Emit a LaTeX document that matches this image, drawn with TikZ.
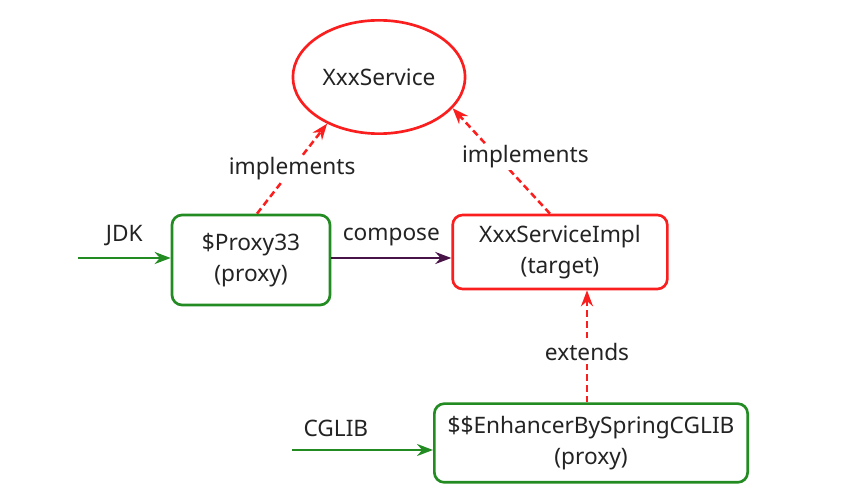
\documentclass[tikz,border=0pt]{standalone}
\usepackage{fontspec}
\setmainfont{Noto Sans}
\usetikzlibrary{positioning,shapes.geometric,arrows.meta}
\definecolor{boxgreen}{RGB}{34,139,34}
\definecolor{boxred}{RGB}{250,30,30}
\definecolor{composecol}{RGB}{72,20,72}
\definecolor{txtgray}{RGB}{35,35,35}
\tikzset{
	every node/.style={text=txtgray, font=\fontsize{17}{23}\selectfont, align=center},
	proxybox/.style={draw=boxgreen, line width=2pt, rounded corners=7.5pt, rectangle},
	targetbox/.style={draw=boxred, line width=2pt, rounded corners=7.5pt, rectangle},
	entry/.style={draw=boxgreen, line width=1.9pt, -{Stealth[length=12pt,width=9pt]}},
	relation/.style={draw=boxred, line width=1.9pt, dash pattern=on 5pt off 3pt, -{Stealth[length=12pt,width=9pt]}},
	lbl/.style={fill=white, inner sep=1pt}
}

\begin{document}
\begin{tikzpicture}[x=0.75pt, y=-0.75pt]
	\useasboundingbox (0,0) rectangle (865,502);
	\begin{scope}
		\node (svc) [ellipse, draw=boxred, line width=2pt, minimum width=129pt, minimum height=85pt] at (379,77) {XxxService};
		\node (proxy) [proxybox, minimum width=118.5pt, minimum height=67.5pt] at (251,260) {\$Proxy33\\(proxy)};
		\node (impl) [targetbox, minimum width=161pt, minimum height=55.5pt] at (560,252) {XxxServiceImpl\\(target)};
		\node (cglib) [proxybox, minimum width=235pt, minimum height=59pt] at (591,443) {\$\$EnhancerBySpringCGLIB\\(proxy)};
		\coordinate (jdkin) at (78,258);
		\coordinate (cglibin) at (292,450);

		\draw [entry] (jdkin) -- node[above=5pt] {JDK} (proxy.west |- jdkin);
		\draw [entry] (cglibin) -- node[above=6pt, xshift=-20pt] {CGLIB} (cglib.west |- cglibin);
		\draw [line width=1.9pt, draw=composecol, -{Stealth[length=12pt,width=9pt]}] (proxy.east |- jdkin) -- node[above=5pt] {compose} (impl.west |- jdkin);
		\draw [relation] ([xshift=4.5pt]proxy.north) -- node[lbl] {implements} (svc.222);
		\draw [relation] ([xshift=-7.5pt]impl.north) -- node[lbl, xshift=18pt, yshift=3pt] {implements} (svc.337);
		\draw [relation] ([xshift=-3pt]cglib.north) -- node[lbl, yshift=-4pt] {extends} ([xshift=-3pt]cglib.north |- impl.south);
	\end{scope}
\end{tikzpicture}
\end{document}
